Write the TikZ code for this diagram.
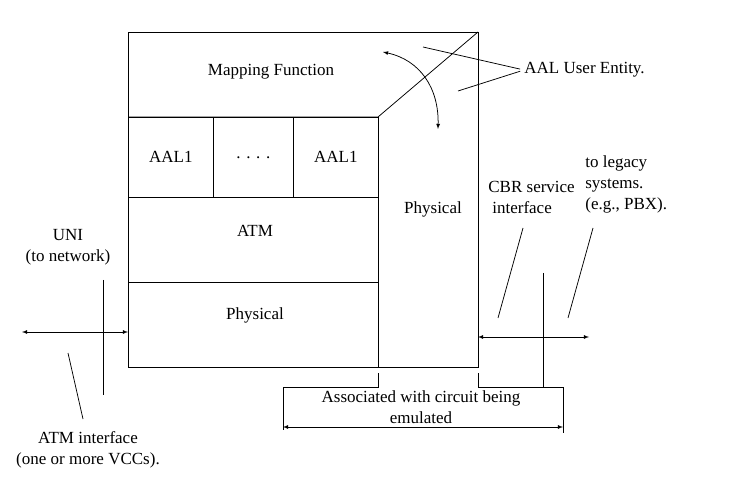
\documentclass[tikz,border=0pt]{standalone}
\usepackage{fontspec}
\setmainfont{Liberation Serif}
\usetikzlibrary{arrows,positioning}

\begin{document}
\begin{tikzpicture}[x=1pt,y=-1pt,line width=0.75pt,>=latex]
    \tikzstyle{every node}=[font=\fontsize{17}{21}\selectfont, inner sep=0pt]
    \tikzstyle{cell}=[draw, rectangle, anchor=north west]
    \tikzstyle{lbl}=[align=center]
    \useasboundingbox (0,0) rectangle (734,481);

    % outer box and the user entity corner
    \draw (128,32) rectangle (478,367);
    \coordinate (ml) at (128,117);
    \coordinate (mr) at (378,117);
    \coordinate (tr) at (478,32);
    \draw (ml) -- (mr) -- (tr);
    \draw (mr) -- (378,367);
    \node (map) at (271,72) {Mapping Function};

    % layers
    \node[cell, minimum width=85pt, minimum height=80pt] (aal1) at (128,117) {AAL1};
    \node[cell, minimum width=80pt, minimum height=80pt] (dots) at (213,117) {. . . .};
    \node[cell, minimum width=85pt, minimum height=80pt] (aal2) at (293,117) {AAL1};
    \node[cell, minimum width=250pt, minimum height=85pt] (atm) at (128,197) {};
    \node (atmt) at (255,231) {ATM};
    \node[cell, minimum width=250pt, minimum height=85pt] (phy) at (128,282) {};
    \node (phyt) at (255,315) {Physical};
    \node (phyr) at (433,209) {Physical};

    % curved arrow
    \coordinate (ca) at (383,52);
    \coordinate (cb) at (438,129);
    \draw [<->] (ca) .. controls (420,60) and (439,88) .. (cb);

    % AAL user entity
    \node[anchor=west] (aue) at (524,70) {AAL User Entity.};
    \coordinate (ue1) at (423,47);
    \coordinate (ue2) at (458,91);
    \draw [shorten <=4pt] (aue.west) -- (ue1);
    \draw [shorten <=4pt] (aue.west) -- (ue2);

    % UNI side
    \node[lbl] (uni) at (68,247) {UNI\\(to network)};
    \coordinate (ul) at (22,332);
    \draw [<->] (ul) -- (phy.west |- ul);
    \coordinate (ut) at (103,280);
    \coordinate (ub) at (103,395);
    \draw (ut) -- (ub);
    \node[lbl] (atmif) at (88,450) {ATM interface\\(one or more VCCs).};
    \coordinate (s1) at (68,353);
    \coordinate (s2) at (83,419);
    \draw (s1) -- (s2);

    % CBR side
    \node[align=left, anchor=west] (cbr) at (488,197) {CBR service\\\hspace*{4pt}interface};
    \node[align=left, anchor=west] (leg) at (585,184) {to legacy\\systems.\\(e.g., PBX).};
    \coordinate (rl) at (478,337);
    \coordinate (rr) at (589,337);
    \draw [<->] (rl) -- (rr);
    \coordinate (rt) at (543,273);
    \coordinate (rb) at (543,388);
    \draw (rt) -- (rb);
    \coordinate (c1) at (523,228);
    \coordinate (c2) at (498,318);
    \draw (c1) -- (c2);
    \coordinate (l1) at (593,228);
    \coordinate (l2) at (568,318);
    \draw (l1) -- (l2);

    % bracket below
    \coordinate (b1) at (378,373);
    \coordinate (b2) at (478,373);
    \draw (b1) -- (378,387) -- (283,387) -- (283,430);
    \draw (b2) -- (478,387) -- (563,387) -- (563,433);
    \coordinate (bl) at (283,427);
    \coordinate (br) at (563,427);
    \draw [<->] (bl) -- (br);
    \node[lbl] (assoc) at (421,407) {Associated with circuit being\\emulated};
\end{tikzpicture}
\end{document}
